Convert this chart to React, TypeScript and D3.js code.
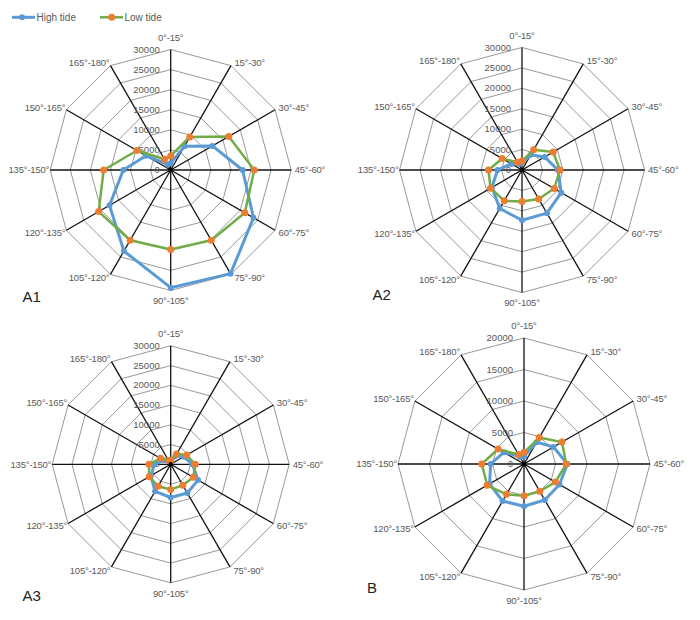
import React from "react";
import * as d3 from "d3";

const categories = ["0°-15°","15°-30°","30°-45°","45°-60°","60°-75°","75°-90°","90°-105°","105°-120°","120°-135°","135°-150°","150°-165°","165°-180°"];

const a1High = [1700, 6800, 12000, 17900, 23800, 29800, 29300, 23300, 17600, 11800, 7100, 1600];
const a1Low = [3500, 9500, 16700, 20800, 21300, 20200, 19800, 20200, 20700, 16700, 9700, 3100];
const a2High = [1700, 4300, 6400, 8800, 11100, 12200, 12300, 10900, 8500, 6000, 3000, 1700];
const a2Low = [2200, 5700, 8800, 9300, 9100, 8200, 7700, 8700, 8900, 8200, 5600, 2200];
const a3High = [500, 2400, 3800, 5500, 8000, 8400, 8400, 7900, 5800, 4100, 2000, 800];
const a3Low = [1000, 3000, 4700, 6200, 6600, 6100, 6400, 6400, 6300, 5500, 3000, 1100];
const bHigh = [1200, 4000, 5400, 6900, 6500, 6600, 6700, 6800, 6300, 5300, 3700, 1300];
const bLow = [1850, 4850, 6950, 6700, 5750, 5000, 5050, 5550, 6750, 6700, 4750, 1750];

const ticksA = [0, 5000, 10000, 15000, 20000, 25000, 30000];
const ticksB = [0, 5000, 10000, 15000, 20000];

const seriesNames = ["High tide", "Low tide"];

const BLUE = "#5B9BD5";
const GREEN = "#70AD47";
const ORANGE = "#ED7D31";
const TEXT = "#595959";
const FONT = "'Liberation Sans', Arial, sans-serif";

type PanelProps = {
  cx: number; cy: number; R: number;
  ticks: number[]; high: number[]; low: number[];
  label: string; lx: number; ly: number;
};

function Panel({ cx, cy, R, ticks, high, low, label, lx, ly }: PanelProps) {
  const n = categories.length;
  const maxV = ticks[ticks.length - 1];
  const r = d3.scaleLinear().domain([0, maxV]).range([0, R]);
  const ang = (i: number) => (i * 2 * Math.PI) / n;
  const line = d3.lineRadial<number>()
    .angle((_, i) => ang(i))
    .radius((d) => r(d))
    .curve(d3.curveLinearClosed);
  const ring = (v: number) => line(categories.map(() => v)) as string;

  return (
    <g transform={`translate(${cx},${cy})`}>
      {ticks.slice(1).map((t) => (
        <path key={"r" + t} d={ring(t)} fill="none" stroke="#8c8c8c" strokeWidth={0.9} />
      ))}
      {categories.map((c, i) => {
        const [x, y] = d3.pointRadial(ang(i), R);
        return <line key={"s" + c} x1={0} y1={0} x2={x} y2={y} stroke="#111" strokeWidth={1.3} />;
      })}
      {ticks.map((t) => (
        <text key={"t" + t} x={-11} y={-r(t)} dy="0.32em" textAnchor="end" fontSize={9.5}
          fill={TEXT} fontFamily={FONT}>{t}</text>
      ))}
      {categories.map((c, i) => {
        const a = ang(i);
        const [ex, ey] = d3.pointRadial(a, R);
        const s = Math.sin(a), co = Math.cos(a);
        let x = ex, y = ey, anchor = "middle";
        if (s > 0.01) { anchor = "start"; x = ex + 3.5; y = ey - co * 4; }
        else if (s < -0.01) { anchor = "end"; x = ex - 1; y = ey - co * 4; }
        else if (co > 0) { y = ey - 12; }
        else { y = ey + 10.5; }
        return (
          <text key={"c" + c} x={x} y={y} dy="0.35em" textAnchor={anchor} fontSize={9.5}
            letterSpacing={-0.2} fill={TEXT} fontFamily={FONT}>{c}</text>
        );
      })}
      <path d={line(high) as string} fill="none" stroke={BLUE} strokeWidth={3} strokeLinejoin="round" />
      {high.map((v, i) => {
        const [x, y] = d3.pointRadial(ang(i), r(v));
        return <circle key={"h" + i} cx={x} cy={y} r={3} fill={BLUE} />;
      })}
      <path d={line(low) as string} fill="none" stroke={GREEN} strokeWidth={2.5} strokeLinejoin="round" />
      {low.map((v, i) => {
        const [x, y] = d3.pointRadial(ang(i), r(v));
        return <circle key={"l" + i} cx={x} cy={y} r={3.5} fill={ORANGE} />;
      })}
      <circle cx={0} cy={0} r={2.2} fill="#000" />
      <text x={lx - cx} y={ly - cy} dy="0.35em" fontSize={15} fill="#222" fontFamily={FONT}>{label}</text>
    </g>
  );
}

export default function App() {
  return (
    <div style={{ position: "fixed", left: 0, top: 0, width: 700, height: 620, background: "#fff" }}>
      <svg width={700} height={620} viewBox="0 0 700 620" style={{ display: "block" }}>
        <rect width={700} height={620} fill="#fff" />
        <g>
          <line x1={12} x2={35} y1={17.3} y2={17.3} stroke={BLUE} strokeWidth={3} />
          <circle cx={22} cy={17.3} r={3} fill={BLUE} />
          <text x={36.5} y={17.3} dy="0.35em" fontSize={10} fill={TEXT} fontFamily={FONT}>{seriesNames[0]}</text>
          <line x1={100} x2={123} y1={17.3} y2={17.3} stroke={GREEN} strokeWidth={2.5} />
          <circle cx={111.7} cy={17.3} r={3.5} fill={ORANGE} />
          <text x={124.5} y={17.3} dy="0.35em" fontSize={10} fill={TEXT} fontFamily={FONT}>{seriesNames[1]}</text>
        </g>
        <Panel cx={170.7} cy={170} R={120.5} ticks={ticksA} high={a1High} low={a1Low} label="A1" lx={22.5} ly={296.5} />
        <Panel cx={522} cy={170} R={122.5} ticks={ticksA} high={a2High} low={a2Low} label="A2" lx={372.5} ly={295} />
        <Panel cx={170.7} cy={464.3} R={118.5} ticks={ticksA} high={a3High} low={a3Low} label="A3" lx={22.5} ly={595.5} />
        <Panel cx={524} cy={464} R={126} ticks={ticksB} high={bHigh} low={bLow} label="B" lx={367} ly={587.3} />
      </svg>
    </div>
  );
}
